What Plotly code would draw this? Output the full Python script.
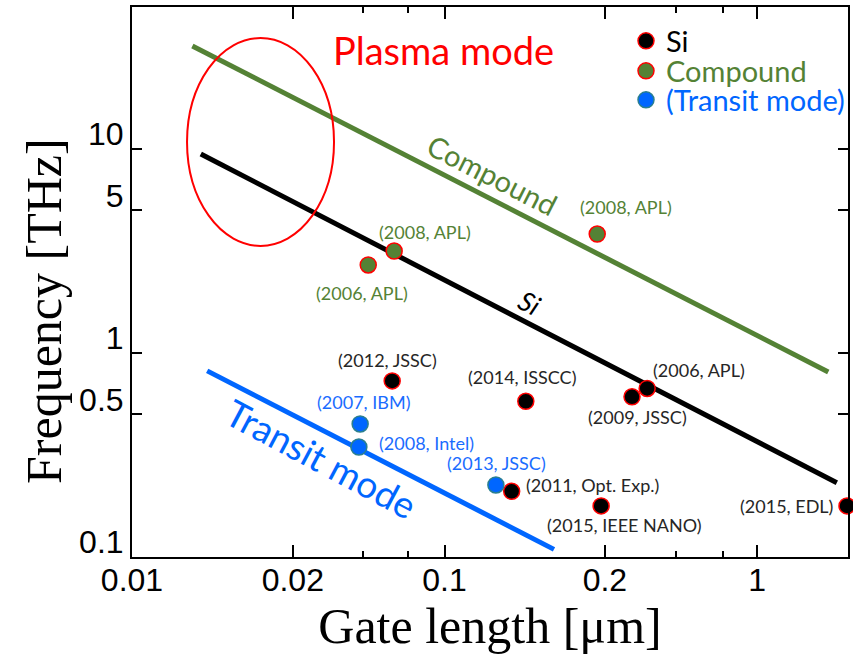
import math
import plotly.graph_objects as go

# ---------------- data ----------------
si_labels = ["(2012, JSSC)", "(2014, ISSCC)", "(2011, Opt. Exp.)", "(2015, IEEE NANO)",
             "(2009, JSSC)", "(2006, APL)", "(2015, EDL)"]
si_gate = [0.068, 0.182, 0.164, 0.317, 0.398, 0.445, 1.94]
si_freq = [0.73, 0.58, 0.21, 0.178, 0.61, 0.67, 0.178]

cp_labels = ["(2006, APL)", "(2008, APL)", "(2008, APL)"]
cp_gate = [0.057, 0.069, 0.308]
cp_freq = [2.70, 3.16, 3.83]

tr_labels = ["(2007, IBM)", "(2008, Intel)", "(2013, JSSC)"]
tr_gate = [0.0537, 0.0532, 0.146]
tr_freq = [0.449, 0.346, 0.2255]

# trend lines (end points)
cp_line_gate = [0.0156, 1.69]
cp_line_freq = [32.0, 0.807]
si_line_gate = [0.0166, 1.80]
si_line_freq = [9.45, 0.231]
tr_line_gate = [0.0174, 0.224]
tr_line_freq = [0.817, 0.109]

# plasma-mode region (ellipse bounds)
plasma_gate = [0.0150, 0.0443]
plasma_freq = [3.35, 35.0]

# axis ticks
x_tickvals = [0.01, 0.0327, 0.1, 0.326, 1]
x_ticktext = ["0.01", "0.02", "0.1", "0.2", "1"]
x_minorvals = [0.0548, 0.0763, 0.551, 0.778]
y_tickvals = [0.1, 0.5, 1, 5, 10]
y_ticktext = ["0.1", "0.5", "1", "5", "10"]

# ---------------- styles ----------------
GREEN = "#548235"
BLUE = "#0066FF"
RED = "#FF0000"
LABEL_FONT = "Lato, Open Sans, sans-serif"

si_off = [(-5, 21), (-4, 24), (81, 6), (23, -19), (5, -20), (52, 18), (-61, 0)]
cp_off = [(-6, -28), (31, 19), (29, 27)]
tr_off = [(3, 22), (68, 4), (1, 22)]

L = math.log10  # annotations on log axes take log10 positions

fig = go.Figure()

# trend lines
fig.add_trace(go.Scatter(x=cp_line_gate, y=cp_line_freq, mode="lines",
                         line=dict(color=GREEN, width=5), showlegend=False, hoverinfo="skip"))
fig.add_trace(go.Scatter(x=si_line_gate, y=si_line_freq, mode="lines",
                         line=dict(color="black", width=5), showlegend=False, hoverinfo="skip"))
fig.add_trace(go.Scatter(x=tr_line_gate, y=tr_line_freq, mode="lines",
                         line=dict(color=BLUE, width=5), showlegend=False, hoverinfo="skip"))

# data points
fig.add_trace(go.Scatter(x=si_gate, y=si_freq, mode="markers", name="Si", legend="legend",
                         marker=dict(size=16, color="black", line=dict(color=RED, width=1.5)),
                         cliponaxis=False, text=si_labels))
fig.add_trace(go.Scatter(x=cp_gate, y=cp_freq, mode="markers", name="Compound", legend="legend2",
                         marker=dict(size=16, color=GREEN, line=dict(color=RED, width=1.5)),
                         cliponaxis=False, text=cp_labels))
fig.add_trace(go.Scatter(x=tr_gate, y=tr_freq, mode="markers", name="(Transit mode)", legend="legend3",
                         marker=dict(size=16, color=BLUE, line=dict(color="#2A7F8F", width=1.5)),
                         cliponaxis=False, text=tr_labels))

annotations = []
def add_labels(xs, ys, labels, offs, color):
    for x, y, t, (dx, dy) in zip(xs, ys, labels, offs):
        annotations.append(dict(x=L(x), y=L(y), xref="x", yref="y", text=t, showarrow=False,
                                xshift=dx, yshift=dy, xanchor="center", yanchor="middle",
                                font=dict(family=LABEL_FONT, size=18, color=color)))

add_labels(si_gate, si_freq, si_labels, si_off, "#262626")
add_labels(cp_gate, cp_freq, cp_labels, cp_off, GREEN)
add_labels(tr_gate, tr_freq, tr_labels, tr_off, "#1A6CFF")

PLOT_L, PLOT_R, PLOT_T, PLOT_B = 132, 848, 7, 557
PW, PH = PLOT_R - PLOT_L, PLOT_B - PLOT_T

# line / region labels, y-axis title
annotations += [
    dict(x=L(0.0996), y=L(30.6), xref="x", yref="y", text="Plasma mode", showarrow=False,
         font=dict(family=LABEL_FONT, size=38, color=RED), xanchor="center", yanchor="middle"),
    dict(x=L(0.1419), y=L(7.46), xref="x", yref="y", text="Compound", showarrow=False, textangle=27,
         font=dict(family=LABEL_FONT, size=29, color=GREEN), xanchor="center", yanchor="middle"),
    dict(x=L(0.1878), y=L(1.778), xref="x", yref="y", text="<i>Si</i>", showarrow=False, textangle=27,
         font=dict(family=LABEL_FONT, size=27, color="black"), xanchor="center", yanchor="middle"),
    dict(x=L(0.0405), y=L(0.305), xref="x", yref="y", text="Transit mode", showarrow=False, textangle=28,
         font=dict(family=LABEL_FONT, size=37, color=BLUE), xanchor="center", yanchor="middle"),
    dict(x=(44 - PLOT_L) / PW, y=(PLOT_B - 311) / PH, xref="paper", yref="paper",
         text="Frequency [THz]", showarrow=False, textangle=-90,
         font=dict(family="Liberation Serif", size=50, color="black"),
         xanchor="center", yanchor="middle"),
]

shapes = [dict(type="circle", xref="x", yref="y",
               x0=plasma_gate[0], x1=plasma_gate[1], y0=plasma_freq[0], y1=plasma_freq[1],
               line=dict(color=RED, width=2))]

def leg(ypix, color):
    return dict(x=(626 - PLOT_L) / PW, y=(PLOT_B - ypix) / PH,
                xref="paper", yref="paper",
                xanchor="left", yanchor="middle", bgcolor="rgba(0,0,0,0)", borderwidth=0,
                font=dict(family=LABEL_FONT, size=29, color=color))

fig.update_layout(
    width=853, height=665,
    margin=dict(l=PLOT_L, r=853 - PLOT_R, t=PLOT_T, b=665 - PLOT_B, autoexpand=False),
    paper_bgcolor="white", plot_bgcolor="white",
    annotations=annotations, shapes=shapes,
    legend=leg(41, "black"), legend2=leg(71, GREEN), legend3=leg(100, BLUE),
)

fig.update_xaxes(
    type="log", range=[-2, 0.291], automargin=False,
    tickmode="array", tickvals=x_tickvals, ticktext=x_ticktext,
    ticks="inside", ticklen=12, tickwidth=2, tickcolor="black",
    minor=dict(tickmode="array", tickvals=x_minorvals, ticks="inside", ticklen=6,
               tickwidth=2, tickcolor="black", showgrid=False),
    showline=True, linecolor="black", linewidth=2, mirror="ticks",
    showgrid=False, zeroline=False, ticklabelstandoff=-6,
    tickfont=dict(family="Liberation Sans, Arial", size=32, color="black"),
    title=dict(text="Gate length [μm]", font=dict(family="Liberation Serif", size=50, color="black"),
               standoff=8),
)
fig.update_yaxes(
    type="log", range=[-1, 1.696], automargin=False,
    tickmode="array", tickvals=y_tickvals, ticktext=y_ticktext,
    ticks="inside", ticklen=10, tickwidth=2, tickcolor="black",
    showline=True, linecolor="black", linewidth=2, mirror="ticks",
    showgrid=False, zeroline=False, ticklabelshift=-15,
    tickfont=dict(family="Liberation Sans, Arial", size=32, color="black"),
)

fig.write_html("out.html", config={"displayModeBar": False},
               post_script="document.body.style.margin='0';")
